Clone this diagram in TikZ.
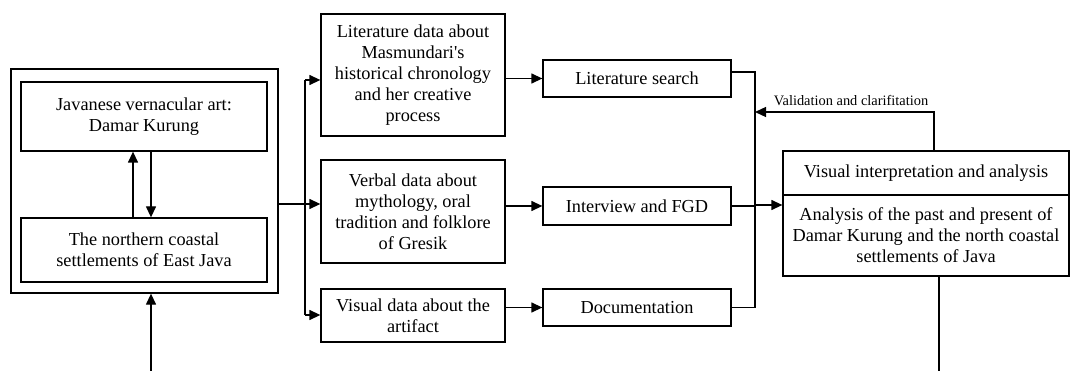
\documentclass[tikz,border=0pt]{standalone}
\usepackage{fontspec}
\setmainfont{Liberation Serif}[Ligatures=TeXOff]
\usetikzlibrary{arrows.meta}
\begin{document}
\begin{tikzpicture}[x=1pt,y=1pt,
  box/.style={draw,line width=1.3pt,inner sep=0pt,align=center,
    font=\fontsize{18.3}{21}\selectfont},
  conn/.style={line width=1.3pt},
  arr/.style={conn,-{Triangle[length=11pt,width=10pt]}},
  lbl/.style={font=\fontsize{14.4}{16}\selectfont,inner sep=0pt}]
\useasboundingbox (0,0) rectangle (1070,-371);
% left group
\node[box,minimum width=267,minimum height=224] (outer) at (144.5,-181) {};
\node[box,minimum width=246,minimum height=69] (art) at (144,-116.5) {Javanese vernacular art:\\Damar Kurung};
\node[box,minimum width=246,minimum height=64] (sett) at (144,-250) {The northern coastal\\settlements of East Java};
% data boxes
\node[box,minimum width=184,minimum height=122] (A) at (413,-75) {Literature data about\\Masmundari's\\historical chronology\\and her creative\\process};
\node[box,minimum width=184,minimum height=103] (B) at (413,-211.5) {Verbal data about\\mythology, oral\\tradition and folklore\\of Gresik};
\node[box,minimum width=184,minimum height=53] (C) at (413,-315.5) {Visual data about the\\artifact};
% methods
\node[box,minimum width=188,minimum height=37] (lit) at (637,-78.5) {Literature search};
\node[box,minimum width=188,minimum height=38] (int) at (637,-206) {Interview and FGD};
\node[box,minimum width=188,minimum height=37] (doc) at (637,-307.5) {Documentation};
% analysis
\node[box,minimum width=286,minimum height=44] (vis) at (926,-173) {Visual interpretation and analysis};
\node[box,minimum width=286,minimum height=81] (ana) at (926,-235.5) {Analysis of the past and present of\\Damar Kurung and the north coastal\\settlements of Java};
% coordinates
\coordinate (bot1) at (151,-371);
\coordinate (j) at (305,-204);
\coordinate (t1) at (305,-80);
\coordinate (t3) at (305,-315);
\coordinate (r1) at (755,-72);
\coordinate (r2) at (755,-205);
\coordinate (r3) at (755,-307.5);
\coordinate (f) at (934,-112);
\coordinate (bot2) at (939,-371);
% inner arrows
\draw[arr] ([xshift=-11pt]sett.north) -- ([xshift=-11pt]art.south);
\draw[arr] ([xshift=7pt]art.south) -- ([xshift=7pt]sett.north);
\draw[arr] (bot1) -- (bot1 |- outer.south);
% trunk
\draw[conn] (j -| outer.east) -- (j);
\draw[conn] (t1) -- (t3);
\draw[arr] (t1) -- (t1 -| A.west);
\draw[arr] (j) -- (j -| B.west);
\draw[arr] (t3) -- (t3 -| C.west);
% data to methods
\draw[arr] (A.east |- lit.west) -- (lit.west);
\draw[arr] (B.east |- int.west) -- (int.west);
\draw[arr] (C.east |- doc.west) -- (doc.west);
% collector
\draw[conn] (r1 -| lit.east) -- (r1) -- (r3) -- (doc.east);
\draw[conn] (int.east) -- (int.east -| r1);
\draw[arr] (r2) -- (r2 -| ana.west);
% feedback
\draw[arr] (f |- vis.north) -- (f) -- (f -| r1);
\node[lbl] (val) at (851,-101) {Validation and clarifitation};
% bottom line
\draw[conn] (bot2 |- ana.south) -- (bot2);
\end{tikzpicture}
\end{document}
